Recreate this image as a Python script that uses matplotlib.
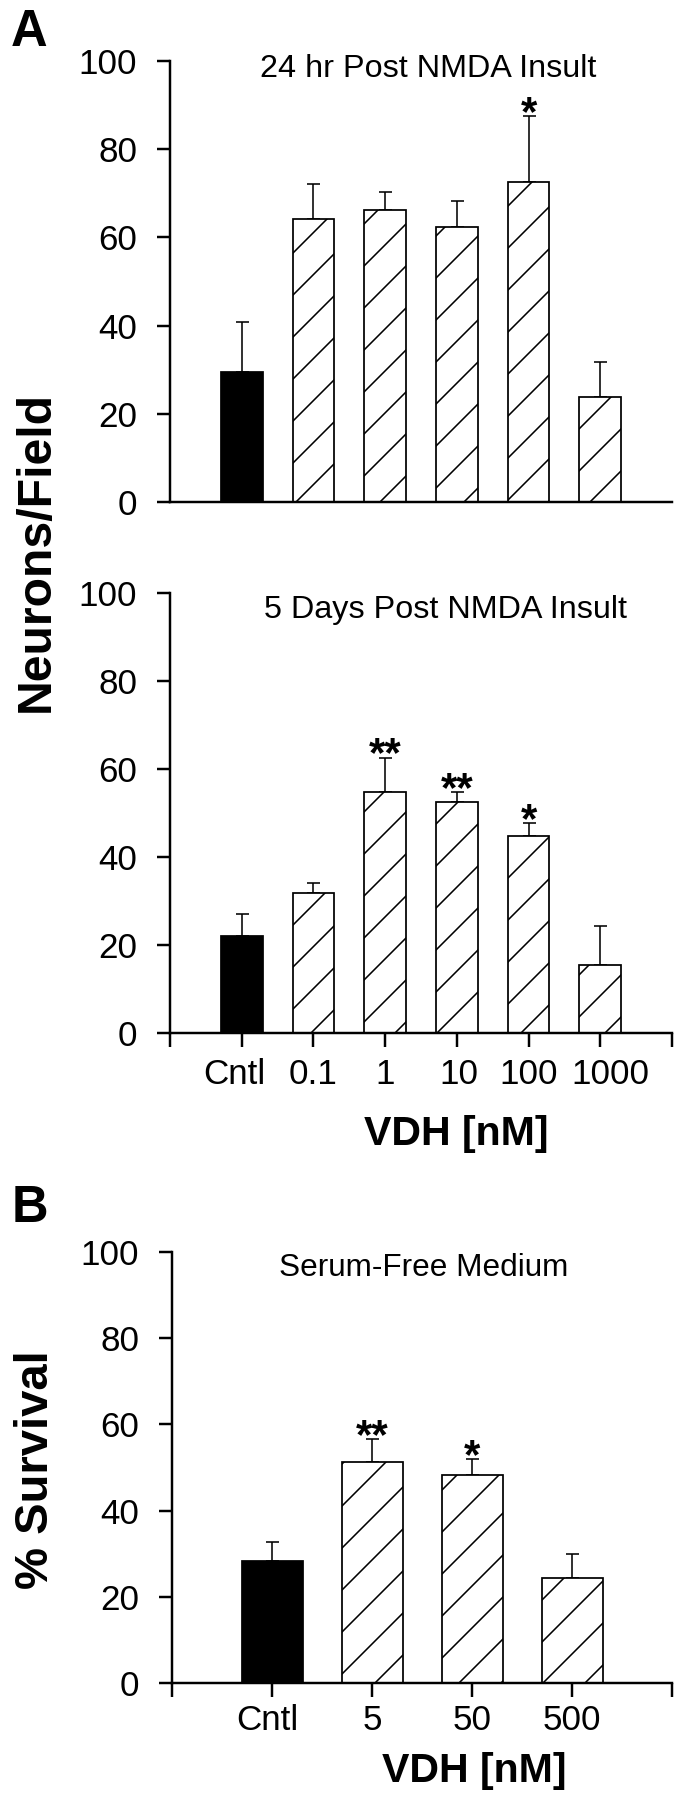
'''
VDH neuroprotection bar charts
A: neurons/field after NMDA insult (24 hr and 5 days)
B: % survival in serum-free medium
'''
import numpy as np
import matplotlib
matplotlib.use('Agg')
import matplotlib.pyplot as plt
from matplotlib.transforms import ScaledTranslation

# ---- data ----
cats_a        = ['Cntl', '0.1', '1', '10', '100', '1000']
nmda_24h      = [29.5, 64.1, 66.1, 62.3, 72.6, 23.7]
nmda_24h_err  = [11.4, 8.0, 4.3, 5.9, 15.0, 8.1]
stars_24h     = ['', '', '', '', '*', '']

nmda_5d       = [22.0, 31.8, 54.7, 52.6, 44.7, 15.5]
nmda_5d_err   = [5.1, 2.4, 7.9, 2.2, 3.1, 8.8]
stars_5d      = ['', '', '**', '**', '*', '']

cats_b        = ['Cntl', '5', '50', '500']
serum_free    = [28.2, 51.3, 48.3, 24.4]
serum_free_err= [4.4, 5.3, 3.7, 5.6]
stars_sf      = ['', '**', '*', '']

yticks = [0, 20, 40, 60, 80, 100]

DPI = 126
W, H = 677, 1800

plt.rcParams['font.family'] = ['Liberation Sans', 'DejaVu Sans']
plt.rcParams['hatch.linewidth'] = 0.9
plt.rcParams['hatch.color'] = 'black'


def px(v):
    # pixel -> points
    return v * 72.0 / DPI


def add_axes(fig, left, right, top, bottom):
    # rectangle from pixel edges
    return fig.add_axes([left / W, 1 - bottom / H, (right - left) / W, (bottom - top) / H])


def nudge_xlabels(fig, ax, shifts):
    # small horizontal shifts of tick labels (pixels), as in the original layout
    labels = ax.get_xticklabels()
    for lab, dx in zip(labels[1:-1], shifts):
        if dx:
            lab.set_transform(lab.get_transform() + ScaledTranslation(dx / DPI, 0, fig.dpi_scale_trans))


def paint_bars(ax, cats, vals, errs, stars, width, xticks_on=True, xpad=7):
    x = np.arange(len(cats))
    colors = ['black'] + ['white'] * (len(cats) - 1)
    hatches = [''] + ['/'] * (len(cats) - 1)

    ax.errorbar(x, vals, yerr=[np.zeros(len(vals)), errs], fmt='none', ecolor='black',
                elinewidth=0.9, capsize=px(6.5), capthick=0.9, zorder=1)
    bars = ax.bar(x, vals, width=width, color=colors, edgecolor='black', linewidth=1.0, zorder=2)
    for b, h in zip(bars, hatches):
        b.set_hatch(h)

    for xi, v, e, s in zip(x, vals, errs, stars):
        if s:
            ax.annotate(s, (xi, v + e), xytext=(0, px(-9)), textcoords='offset points',
                        ha='center', va='baseline', fontsize=24, fontweight='bold')

    ax.set_xlim(-1, len(cats))
    ax.set_ylim(0, 100)
    ax.set_yticks(yticks)
    ax.set_yticklabels([str(t) for t in yticks])
    ax.spines['top'].set_visible(False)
    ax.spines['right'].set_visible(False)
    for sp in ['left', 'bottom']:
        ax.spines[sp].set_linewidth(1.4)
    ax.tick_params(axis='y', direction='out', length=px(13), width=1.4, pad=px(20), labelsize=20)
    if xticks_on:
        ax.set_xticks(np.arange(-1, len(cats) + 1))
        ax.set_xticklabels([''] + cats + [''])
        ax.tick_params(axis='x', direction='out', length=px(14), width=1.4, pad=px(xpad), labelsize=20)
    else:
        ax.set_xticks([])
    ax.set_facecolor('none')


def main():
    fig = plt.figure(figsize=(W / DPI, H / DPI), dpi=DPI)

    ax1 = add_axes(fig, 170, 672, 61, 502)
    paint_bars(ax1, cats_a, nmda_24h, nmda_24h_err, stars_24h, 0.58, xticks_on=False)

    ax2 = add_axes(fig, 170, 672, 593, 1033)
    paint_bars(ax2, cats_a, nmda_5d, nmda_5d_err, stars_5d, 0.58, xpad=11)
    nudge_xlabels(fig, ax2, [-7, 0, 0, 2, 0, 10])

    ax3 = add_axes(fig, 172, 672, 1252, 1683)
    paint_bars(ax3, cats_b, serum_free, serum_free_err, stars_sf, 0.61, xpad=7)
    nudge_xlabels(fig, ax3, [-5, 0, 0, 0])

    # panel titles
    fig.text(428 / W, 1 - 77 / H, '24 hr Post NMDA Insult', ha='center', va='baseline', fontsize=18.5)
    fig.text(446 / W, 1 - 618 / H, '5 Days Post NMDA Insult', ha='center', va='baseline', fontsize=18.5)
    fig.text(424 / W, 1 - 1276 / H, 'Serum-Free Medium', ha='center', va='baseline', fontsize=18)

    # axis labels
    fig.text(36 / W, 1 - 552 / H, 'Neurons/Field', rotation=90, ha='center', va='center',
             fontsize=27.5, fontweight='bold')
    fig.text(36 / W, 1 - 1470 / H, '% Survival', rotation=90, ha='center', va='center',
             fontsize=27, fontweight='bold')
    fig.text(456 / W, 1 - 1145 / H, 'VDH [nM]', ha='center', va='baseline', fontsize=23.5, fontweight='bold')
    fig.text(474 / W, 1 - 1782 / H, 'VDH [nM]', ha='center', va='baseline', fontsize=23.5, fontweight='bold')

    # panel letters
    fig.text(11 / W, 1 - 46 / H, 'A', ha='left', va='baseline', fontsize=29, fontweight='bold')
    fig.text(12 / W, 1 - 1222 / H, 'B', ha='left', va='baseline', fontsize=29, fontweight='bold')

    fig.savefig('out.png', dpi=DPI, facecolor='white')


if __name__ == "__main__":
    main()
